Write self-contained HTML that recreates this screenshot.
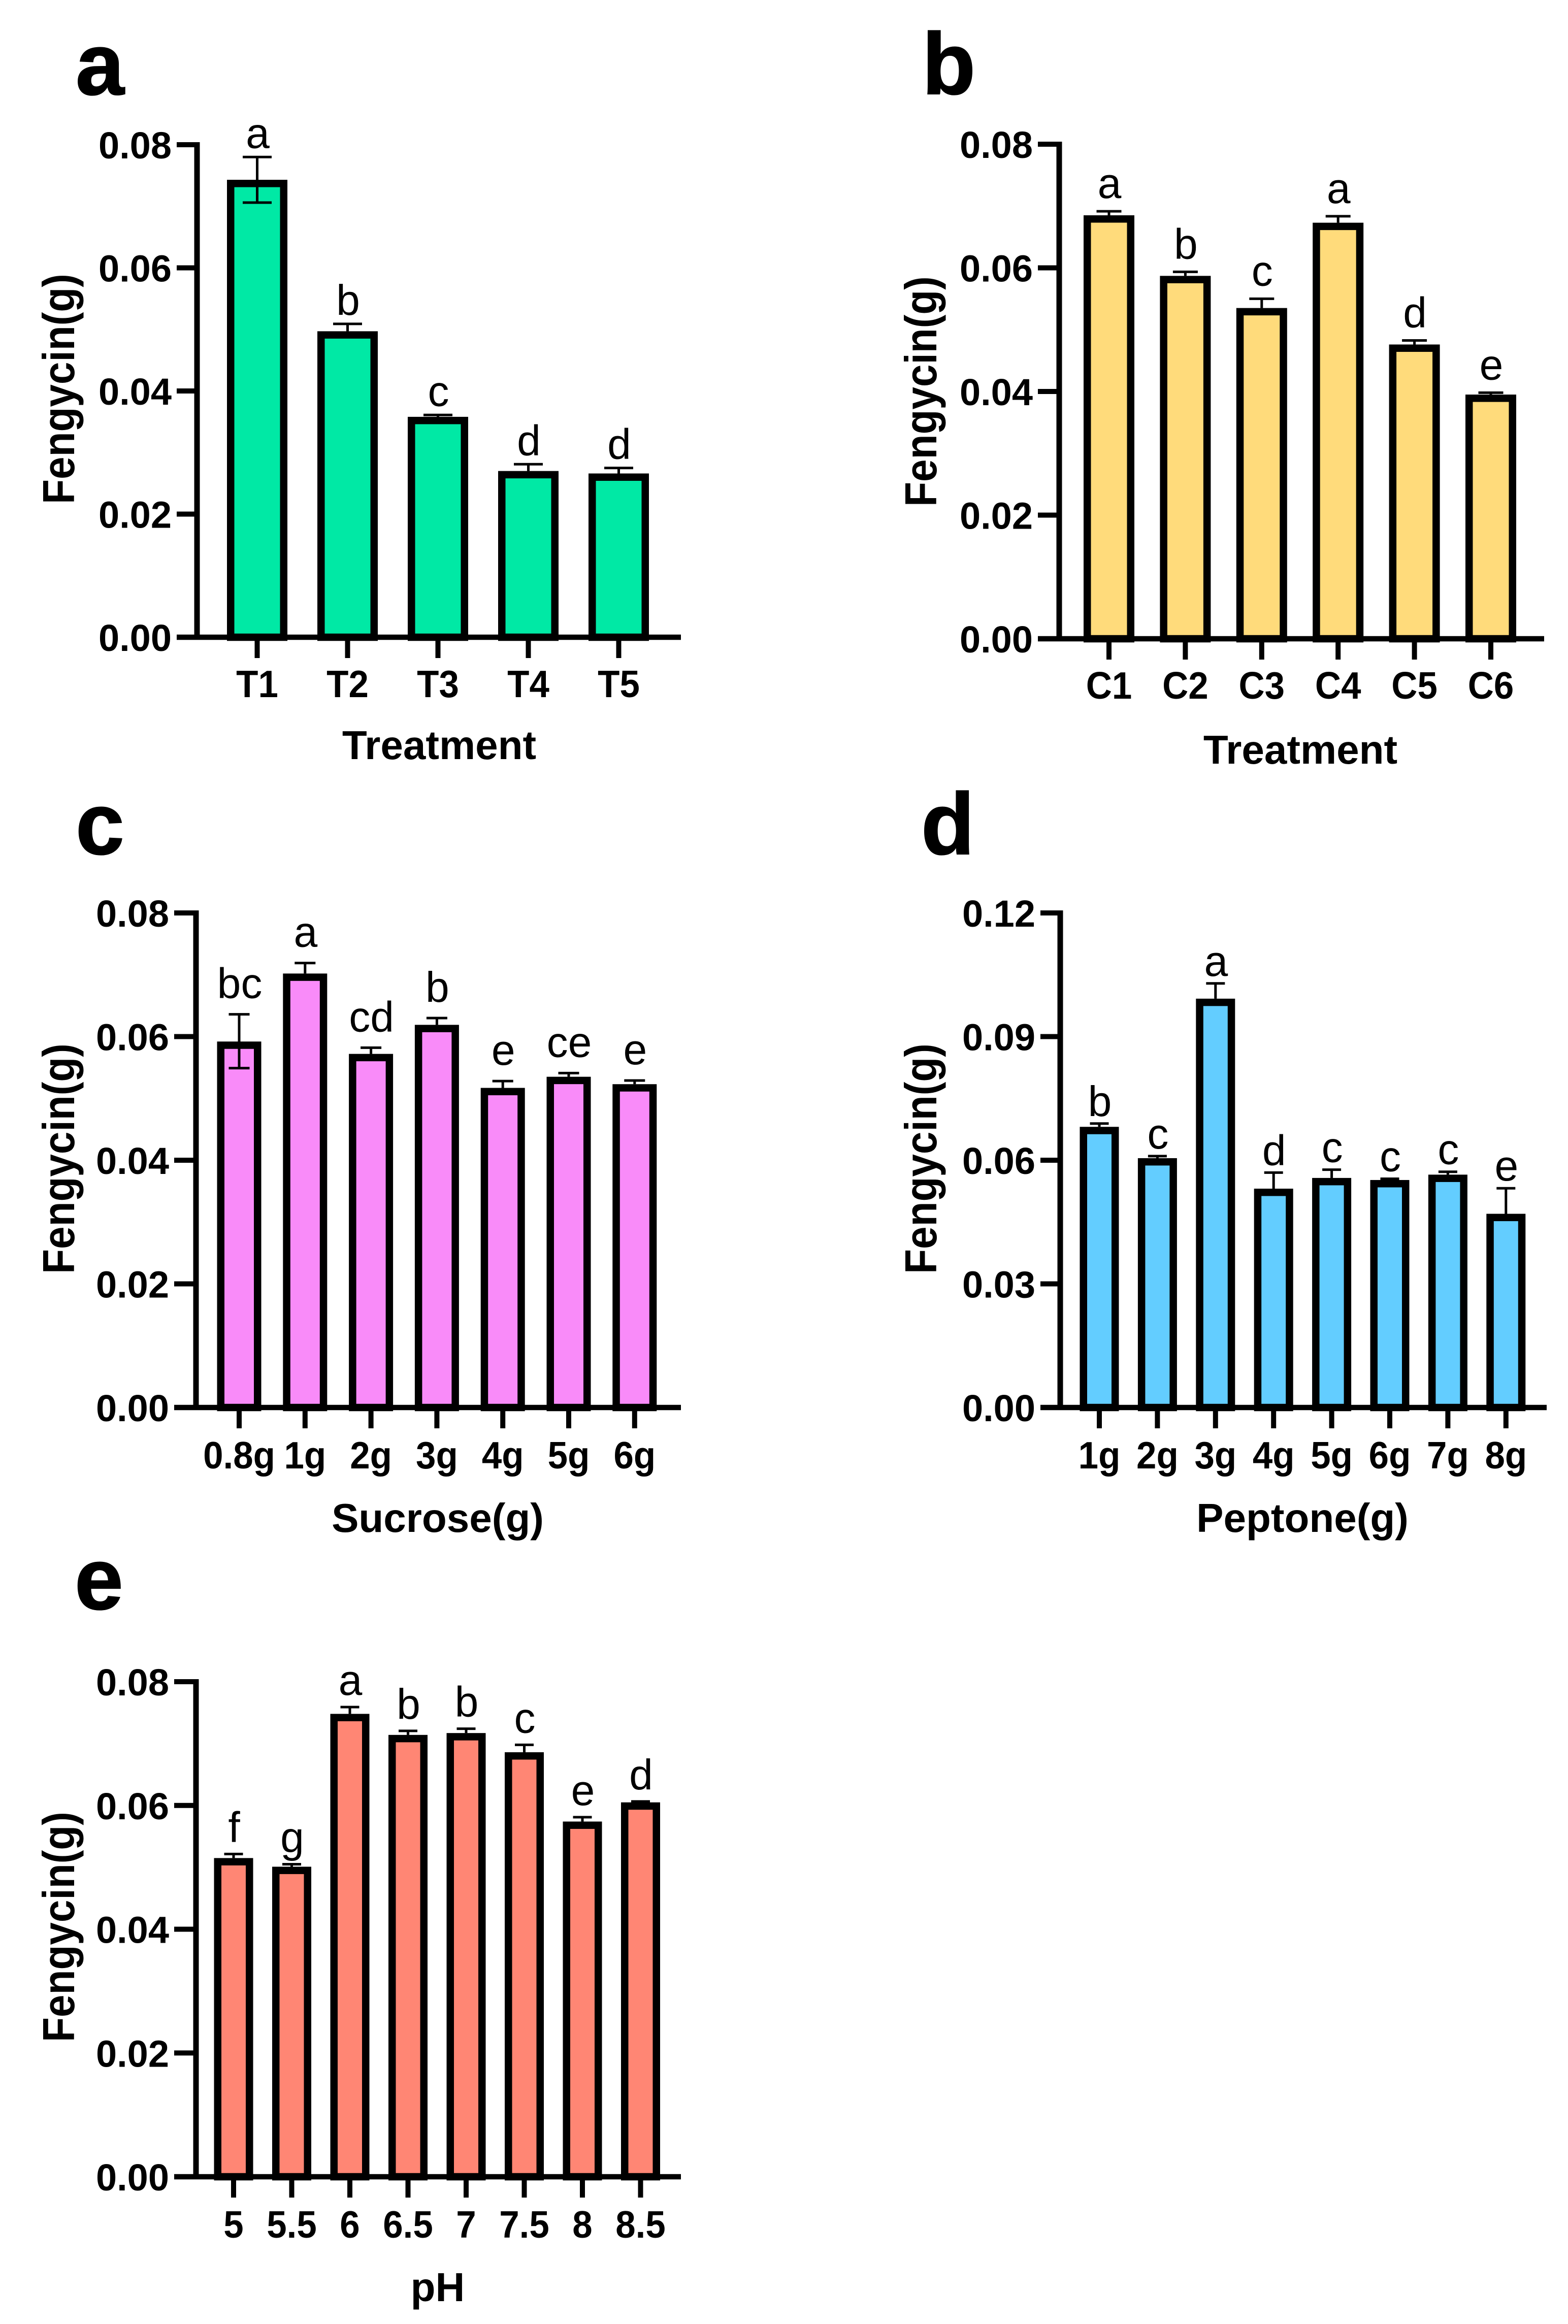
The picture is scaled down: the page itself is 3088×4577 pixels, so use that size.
<!DOCTYPE html>
<html lang="en">
<head>
<meta charset="utf-8">
<title>Fengycin yield bar charts</title>
<style>
html,body{margin:0;padding:0;background:#fff;}
#figure{display:block;width:3088px;height:4577px;background:#fff;font-family:"Liberation Sans",Arial,sans-serif;}
</style>
</head>
<body>
<svg id="figure" xmlns="http://www.w3.org/2000/svg" width="3088" height="4577" viewBox="0 0 3088 4577"></svg>
<script>
// Panel a
const categoriesA = ['T1','T2','T3','T4','T5'];
const valuesA = [0.0743,0.0497,0.0358,0.0270,0.0266];
const errUpA = [0.0037,0.0012,0.0003,0.0011,0.0009];
const errDownA = [0.0037,0,0,0,0];
const lettersA = ['a','b','c','d','d'];
const yTicksA = [0,0.02,0.04,0.06,0.08];

// Panel b
const categoriesB = ['C1','C2','C3','C4','C5','C6'];
const valuesB = [0.0685,0.0587,0.0535,0.0673,0.0476,0.0395];
const errUpB = [0.00065,0.00065,0.0015,0.00105,0.00065,0.0003];
const errDownB = [0,0,0,0,0,0];
const lettersB = ['a','b','c','a','d','e'];
const yTicksB = [0,0.02,0.04,0.06,0.08];

// Panel c
const categoriesC = ['0.8g','1g','2g','3g','4g','5g','6g'];
const valuesC = [0.0592,0.0702,0.0572,0.0619,0.0517,0.0535,0.0523];
const errUpC = [0.0044,0.0017,0.0010,0.0011,0.0011,0.0006,0.0006];
const errDownC = [0.0043,0,0,0,0,0,0];
const lettersC = ['bc','a','cd','b','e','ce','e'];
const yTicksC = [0,0.02,0.04,0.06,0.08];

// Panel d
const categoriesD = ['1g','2g','3g','4g','5g','6g','7g','8g'];
const valuesD = [0.0681,0.0605,0.0992,0.0531,0.0557,0.0552,0.0565,0.0470];
const errUpD = [0.0008,0.0005,0.0037,0.0039,0.0020,0.0003,0.0007,0.0062];
const errDownD = [0,0,0,0,0,0,0,0];
const lettersD = ['b','c','a','d','c','c','c','e'];
const yTicksD = [0,0.03,0.06,0.09,0.12];

// Panel e
const categoriesE = ['5','5.5','6','6.5','7','7.5','8','8.5'];
const valuesE = [0.0515,0.0501,0.0748,0.0714,0.0717,0.0686,0.0574,0.0605];
const errUpE = [0.00065,0.0004,0.0011,0.00065,0.0007,0.0012,0.0007,0.00015];
const errDownE = [0,0,0,0,0,0,0,0];
const lettersE = ['f','g','a','b','b','c','e','d'];
const yTicksE = [0,0.02,0.04,0.06,0.08];

const svg = document.getElementById('figure');
const NS = 'http://www.w3.org/2000/svg';

function shape(parent, tag, attrs, text) {
  const el = document.createElementNS(NS, tag);
  for (const k in attrs) el.setAttribute(k, attrs[k]);
  if (text !== undefined) el.textContent = text;
  parent.appendChild(el);
  return el;
}

function drawPanel(p) {
  const g = shape(svg, 'g', {});
  
  

  const yMax = p.yTicks[p.yTicks.length - 1];
  const yScale = v => p.y0 - (v / yMax) * (p.y0 - p.yTop);
  const xScale = i => p.firstX + i * p.stepX;
  const black = '#000';

  const letter = shape(g, 'text', {x: p.letterX, y: p.letterY, 'font-size': 172, 'font-weight': 'bold', fill: black, stroke: black, 'stroke-width': 2}, p.id);
  
  

  p.values.forEach((v, i) => {
    const cx = xScale(i);
    const top = yScale(v);
    const b = 14.5;

    const bar = shape(g, 'rect', {x: cx - p.barW / 2 + b / 2, y: top + b / 2, width: p.barW - b, height: p.y0 - top - b / 2, fill: p.color, stroke: black, 'stroke-width': b});
    
    

    const upY = yScale(v + p.errUp[i]);
    const downY = yScale(v - p.errDown[i]);
    const errLine = shape(g, 'line', {x1: cx, x2: cx, y1: upY, y2: downY, stroke: black, 'stroke-width': 5});
    
    

    const capUp = shape(g, 'line', {x1: cx - p.capW / 2, x2: cx + p.capW / 2, y1: upY, y2: upY, stroke: black, 'stroke-width': 5});
    
    

    if (p.errDown[i] > 0) {
      const capDown = shape(g, 'line', {x1: cx - p.capW / 2, x2: cx + p.capW / 2, y1: downY, y2: downY, stroke: black, 'stroke-width': 5});
      
      
    }

    const sig = shape(g, 'text', {x: cx + 1, y: upY - p.letterGap, 'font-size': 84, 'text-anchor': 'middle', fill: black}, p.letters[i]);
    
    

    const tick = shape(g, 'line', {x1: cx, x2: cx, y1: p.y0, y2: p.y0 + 41, stroke: black, 'stroke-width': 10});
    
    

    const xLabel = shape(g, 'text', {transform: 'translate(' + cx + ' ' + (p.y0 + p.xLabelDrop) + ') scale(0.945 1)', 'font-size': 75, 'font-weight': 'bold', 'text-anchor': 'middle', fill: black}, p.categories[i]);
    
    
  });

  const xAxis = shape(g, 'line', {x1: p.tickLeft, x2: p.axisRight, y1: p.y0, y2: p.y0, stroke: black, 'stroke-width': 10.5});
  
  

  const yAxis = shape(g, 'line', {x1: p.spineX, x2: p.spineX, y1: p.yTop - 5, y2: p.y0 + 5, stroke: black, 'stroke-width': 11});
  
  

  p.yTicks.forEach(t => {
    const ty = yScale(t);
    const tick = shape(g, 'line', {x1: p.tickLeft, x2: p.spineX, y1: ty, y2: ty, stroke: black, 'stroke-width': 10});
    
    

    const label = shape(g, 'text', {x: p.yLabelX, y: ty + 27, 'font-size': 74, 'font-weight': 'bold', 'text-anchor': 'end', fill: black}, t.toFixed(2));
    
    
  });

  const xTitle = shape(g, 'text', {x: p.xTitleX, y: p.xTitleY, 'font-size': 80, 'font-weight': 'bold', 'text-anchor': 'middle', fill: black}, p.xTitle);
  
  

  const yTitle = shape(g, 'text', {transform: 'translate(' + p.yTitleX + ' ' + p.yTitleY + ') rotate(-90) scale(0.91 1)', 'font-size': 88, 'font-weight': 'bold', 'text-anchor': 'middle', fill: black}, 'Fengycin(g)');
  
  
}

drawPanel({id:'a', color:'#00E9A5', categories:categoriesA, values:valuesA, errUp:errUpA, errDown:errDownA, letters:lettersA, yTicks:yTicksA,
  letterX:149, letterY:186, spineX:388, tickLeft:348, axisRight:1341, yTop:285, y0:1255, firstX:506.5, stepX:178, barW:119, capW:57,
  letterGap:18, xLabelDrop:118, yLabelX:338, xTitle:'Treatment', xTitleX:865, xTitleY:1495, yTitleX:146, yTitleY:766});

drawPanel({id:'b', color:'#FFDB7B', categories:categoriesB, values:valuesB, errUp:errUpB, errDown:errDownB, letters:lettersB, yTicks:yTicksB,
  letterX:1816, letterY:185, spineX:2086, tickLeft:2044, axisRight:3041, yTop:284, y0:1258, firstX:2184, stepX:150.4, barW:100, capW:49,
  letterGap:26, xLabelDrop:118, yLabelX:2034, xTitle:'Treatment', xTitleX:2561, xTitleY:1504, yTitleX:1844, yTitleY:771});

drawPanel({id:'c', color:'#F98BF9', categories:categoriesC, values:valuesC, errUp:errUpC, errDown:errDownC, letters:lettersC, yTicks:yTicksC,
  letterX:149, letterY:1682, spineX:386, tickLeft:343, axisRight:1341, yTop:1798, y0:2772, firstX:471, stepX:129.8, barW:87, capW:41,
  letterGap:32, xLabelDrop:120, yLabelX:333, xTitle:'Sucrose(g)', xTitleX:862, xTitleY:3017, yTitleX:146, yTitleY:2282});

drawPanel({id:'d', color:'#63CDFF', categories:categoriesD, values:valuesD, errUp:errUpD, errDown:errDownD, letters:lettersD, yTicks:yTicksD,
  letterX:1814, letterY:1682, spineX:2088, tickLeft:2049, axisRight:3046, yTop:1798, y0:2772, firstX:2165, stepX:114.4, barW:77, capW:37,
  letterGap:15, xLabelDrop:120, yLabelX:2039, xTitle:'Peptone(g)', xTitleX:2565, xTitleY:3017, yTitleX:1844, yTitleY:2282});

drawPanel({id:'e', color:'#FF8674', categories:categoriesE, values:valuesE, errUp:errUpE, errDown:errDownE, letters:lettersE, yTicks:yTicksE,
  letterX:147, letterY:3169, spineX:386, tickLeft:343, axisRight:1341, yTop:3312, y0:4287, firstX:460, stepX:114.5, barW:77, capW:37,
  letterGap:24, xLabelDrop:120, yLabelX:333, xTitle:'pH', xTitleX:862, xTitleY:4532, yTitleX:146, yTitleY:3795});
</script>
</body>
</html>
